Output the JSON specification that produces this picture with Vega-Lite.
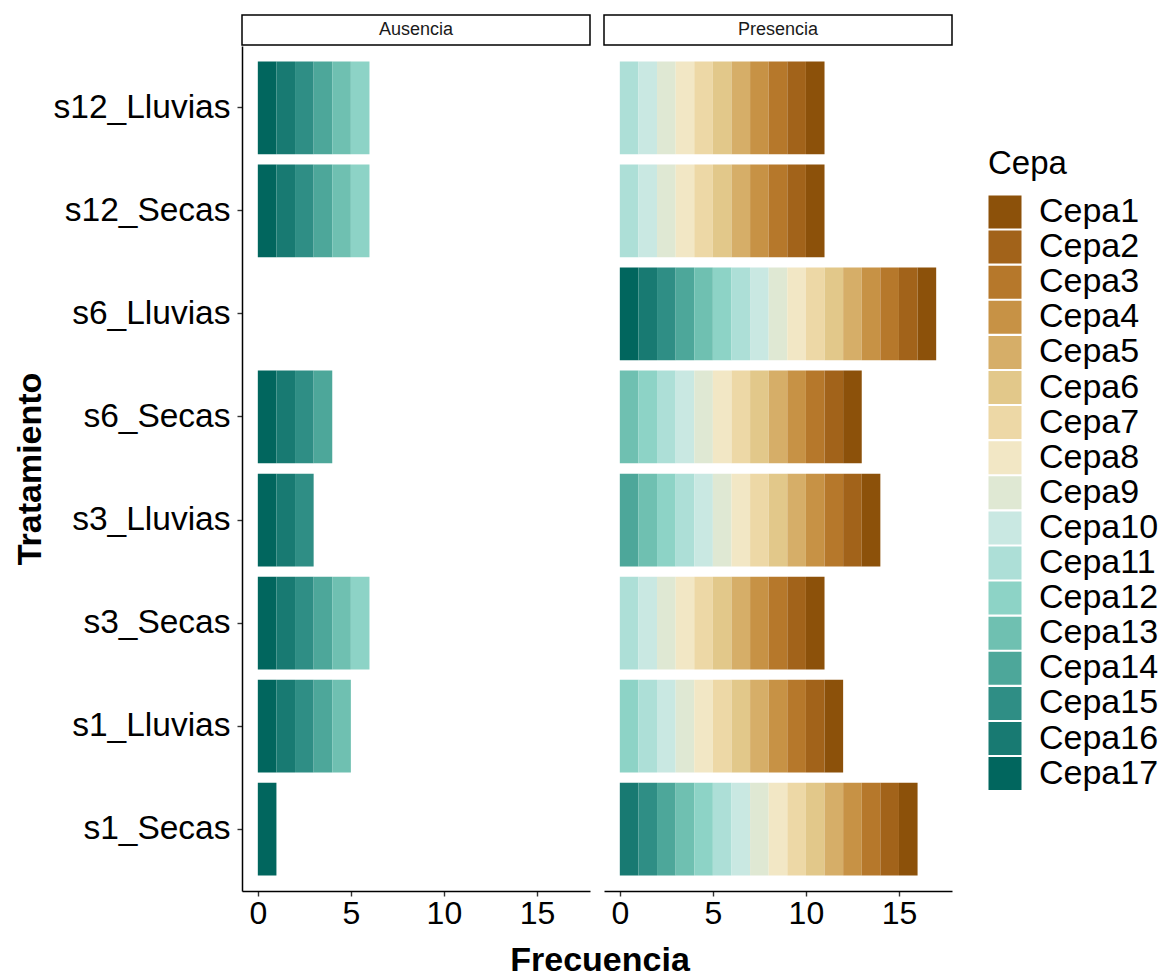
{
  "$schema": "https://vega.github.io/schema/vega-lite/v6.json",
  "padding": {"left": 13, "top": 14, "right": 1, "bottom": 1},
  "background": "white",
  "config": {
    "font": "Liberation Sans",
    "view": {"stroke": null},
    "axis": {
      "grid": false,
      "domainColor": "black",
      "domainWidth": 1.5,
      "tickColor": "#333333",
      "tickWidth": 1.4,
      "tickSize": 5,
      "labelColor": "black",
      "labelFont": "Liberation Sans",
      "labelFontSize": 32,
      "titleFont": "Liberation Sans",
      "titleFontSize": 34,
      "titleFontWeight": "bold",
      "titleColor": "black"
    },
    "legend": {
      "labelFont": "Liberation Sans",
      "labelFontSize": 34,
      "labelColor": "black",
      "titleFont": "Liberation Sans",
      "titleFontSize": 33,
      "titleFontWeight": "normal",
      "titleColor": "black",
      "symbolType": "square",
      "symbolSize": 1089,
      "symbolStrokeWidth": 0,
      "symbolOpacity": 1,
      "rowPadding": 1.1,
      "labelOffset": 17,
      "titlePadding": 14,
      "padding": 0
    }
  },
  "title": {
    "text": "Frecuencia",
    "orient": "bottom",
    "anchor": "middle",
    "font": "Liberation Sans",
    "fontSize": 34,
    "fontWeight": "bold",
    "color": "black",
    "offset": 15,
    "dx": 14
  },
  "datasets": {
    "d": [
      {"Tratamiento": "s12_Lluvias", "Condicion": "Ausencia", "Cepa": "Cepa17", "k": 17},
      {"Tratamiento": "s12_Lluvias", "Condicion": "Ausencia", "Cepa": "Cepa16", "k": 16},
      {"Tratamiento": "s12_Lluvias", "Condicion": "Ausencia", "Cepa": "Cepa15", "k": 15},
      {"Tratamiento": "s12_Lluvias", "Condicion": "Ausencia", "Cepa": "Cepa14", "k": 14},
      {"Tratamiento": "s12_Lluvias", "Condicion": "Ausencia", "Cepa": "Cepa13", "k": 13},
      {"Tratamiento": "s12_Lluvias", "Condicion": "Ausencia", "Cepa": "Cepa12", "k": 12},
      {"Tratamiento": "s12_Lluvias", "Condicion": "Presencia", "Cepa": "Cepa11", "k": 11},
      {"Tratamiento": "s12_Lluvias", "Condicion": "Presencia", "Cepa": "Cepa10", "k": 10},
      {"Tratamiento": "s12_Lluvias", "Condicion": "Presencia", "Cepa": "Cepa9", "k": 9},
      {"Tratamiento": "s12_Lluvias", "Condicion": "Presencia", "Cepa": "Cepa8", "k": 8},
      {"Tratamiento": "s12_Lluvias", "Condicion": "Presencia", "Cepa": "Cepa7", "k": 7},
      {"Tratamiento": "s12_Lluvias", "Condicion": "Presencia", "Cepa": "Cepa6", "k": 6},
      {"Tratamiento": "s12_Lluvias", "Condicion": "Presencia", "Cepa": "Cepa5", "k": 5},
      {"Tratamiento": "s12_Lluvias", "Condicion": "Presencia", "Cepa": "Cepa4", "k": 4},
      {"Tratamiento": "s12_Lluvias", "Condicion": "Presencia", "Cepa": "Cepa3", "k": 3},
      {"Tratamiento": "s12_Lluvias", "Condicion": "Presencia", "Cepa": "Cepa2", "k": 2},
      {"Tratamiento": "s12_Lluvias", "Condicion": "Presencia", "Cepa": "Cepa1", "k": 1},

      {"Tratamiento": "s12_Secas", "Condicion": "Ausencia", "Cepa": "Cepa17", "k": 17},
      {"Tratamiento": "s12_Secas", "Condicion": "Ausencia", "Cepa": "Cepa16", "k": 16},
      {"Tratamiento": "s12_Secas", "Condicion": "Ausencia", "Cepa": "Cepa15", "k": 15},
      {"Tratamiento": "s12_Secas", "Condicion": "Ausencia", "Cepa": "Cepa14", "k": 14},
      {"Tratamiento": "s12_Secas", "Condicion": "Ausencia", "Cepa": "Cepa13", "k": 13},
      {"Tratamiento": "s12_Secas", "Condicion": "Ausencia", "Cepa": "Cepa12", "k": 12},
      {"Tratamiento": "s12_Secas", "Condicion": "Presencia", "Cepa": "Cepa11", "k": 11},
      {"Tratamiento": "s12_Secas", "Condicion": "Presencia", "Cepa": "Cepa10", "k": 10},
      {"Tratamiento": "s12_Secas", "Condicion": "Presencia", "Cepa": "Cepa9", "k": 9},
      {"Tratamiento": "s12_Secas", "Condicion": "Presencia", "Cepa": "Cepa8", "k": 8},
      {"Tratamiento": "s12_Secas", "Condicion": "Presencia", "Cepa": "Cepa7", "k": 7},
      {"Tratamiento": "s12_Secas", "Condicion": "Presencia", "Cepa": "Cepa6", "k": 6},
      {"Tratamiento": "s12_Secas", "Condicion": "Presencia", "Cepa": "Cepa5", "k": 5},
      {"Tratamiento": "s12_Secas", "Condicion": "Presencia", "Cepa": "Cepa4", "k": 4},
      {"Tratamiento": "s12_Secas", "Condicion": "Presencia", "Cepa": "Cepa3", "k": 3},
      {"Tratamiento": "s12_Secas", "Condicion": "Presencia", "Cepa": "Cepa2", "k": 2},
      {"Tratamiento": "s12_Secas", "Condicion": "Presencia", "Cepa": "Cepa1", "k": 1},

      {"Tratamiento": "s6_Lluvias", "Condicion": "Presencia", "Cepa": "Cepa17", "k": 17},
      {"Tratamiento": "s6_Lluvias", "Condicion": "Presencia", "Cepa": "Cepa16", "k": 16},
      {"Tratamiento": "s6_Lluvias", "Condicion": "Presencia", "Cepa": "Cepa15", "k": 15},
      {"Tratamiento": "s6_Lluvias", "Condicion": "Presencia", "Cepa": "Cepa14", "k": 14},
      {"Tratamiento": "s6_Lluvias", "Condicion": "Presencia", "Cepa": "Cepa13", "k": 13},
      {"Tratamiento": "s6_Lluvias", "Condicion": "Presencia", "Cepa": "Cepa12", "k": 12},
      {"Tratamiento": "s6_Lluvias", "Condicion": "Presencia", "Cepa": "Cepa11", "k": 11},
      {"Tratamiento": "s6_Lluvias", "Condicion": "Presencia", "Cepa": "Cepa10", "k": 10},
      {"Tratamiento": "s6_Lluvias", "Condicion": "Presencia", "Cepa": "Cepa9", "k": 9},
      {"Tratamiento": "s6_Lluvias", "Condicion": "Presencia", "Cepa": "Cepa8", "k": 8},
      {"Tratamiento": "s6_Lluvias", "Condicion": "Presencia", "Cepa": "Cepa7", "k": 7},
      {"Tratamiento": "s6_Lluvias", "Condicion": "Presencia", "Cepa": "Cepa6", "k": 6},
      {"Tratamiento": "s6_Lluvias", "Condicion": "Presencia", "Cepa": "Cepa5", "k": 5},
      {"Tratamiento": "s6_Lluvias", "Condicion": "Presencia", "Cepa": "Cepa4", "k": 4},
      {"Tratamiento": "s6_Lluvias", "Condicion": "Presencia", "Cepa": "Cepa3", "k": 3},
      {"Tratamiento": "s6_Lluvias", "Condicion": "Presencia", "Cepa": "Cepa2", "k": 2},
      {"Tratamiento": "s6_Lluvias", "Condicion": "Presencia", "Cepa": "Cepa1", "k": 1},

      {"Tratamiento": "s6_Secas", "Condicion": "Ausencia", "Cepa": "Cepa17", "k": 17},
      {"Tratamiento": "s6_Secas", "Condicion": "Ausencia", "Cepa": "Cepa16", "k": 16},
      {"Tratamiento": "s6_Secas", "Condicion": "Ausencia", "Cepa": "Cepa15", "k": 15},
      {"Tratamiento": "s6_Secas", "Condicion": "Ausencia", "Cepa": "Cepa14", "k": 14},
      {"Tratamiento": "s6_Secas", "Condicion": "Presencia", "Cepa": "Cepa13", "k": 13},
      {"Tratamiento": "s6_Secas", "Condicion": "Presencia", "Cepa": "Cepa12", "k": 12},
      {"Tratamiento": "s6_Secas", "Condicion": "Presencia", "Cepa": "Cepa11", "k": 11},
      {"Tratamiento": "s6_Secas", "Condicion": "Presencia", "Cepa": "Cepa10", "k": 10},
      {"Tratamiento": "s6_Secas", "Condicion": "Presencia", "Cepa": "Cepa9", "k": 9},
      {"Tratamiento": "s6_Secas", "Condicion": "Presencia", "Cepa": "Cepa8", "k": 8},
      {"Tratamiento": "s6_Secas", "Condicion": "Presencia", "Cepa": "Cepa7", "k": 7},
      {"Tratamiento": "s6_Secas", "Condicion": "Presencia", "Cepa": "Cepa6", "k": 6},
      {"Tratamiento": "s6_Secas", "Condicion": "Presencia", "Cepa": "Cepa5", "k": 5},
      {"Tratamiento": "s6_Secas", "Condicion": "Presencia", "Cepa": "Cepa4", "k": 4},
      {"Tratamiento": "s6_Secas", "Condicion": "Presencia", "Cepa": "Cepa3", "k": 3},
      {"Tratamiento": "s6_Secas", "Condicion": "Presencia", "Cepa": "Cepa2", "k": 2},
      {"Tratamiento": "s6_Secas", "Condicion": "Presencia", "Cepa": "Cepa1", "k": 1},

      {"Tratamiento": "s3_Lluvias", "Condicion": "Ausencia", "Cepa": "Cepa17", "k": 17},
      {"Tratamiento": "s3_Lluvias", "Condicion": "Ausencia", "Cepa": "Cepa16", "k": 16},
      {"Tratamiento": "s3_Lluvias", "Condicion": "Ausencia", "Cepa": "Cepa15", "k": 15},
      {"Tratamiento": "s3_Lluvias", "Condicion": "Presencia", "Cepa": "Cepa14", "k": 14},
      {"Tratamiento": "s3_Lluvias", "Condicion": "Presencia", "Cepa": "Cepa13", "k": 13},
      {"Tratamiento": "s3_Lluvias", "Condicion": "Presencia", "Cepa": "Cepa12", "k": 12},
      {"Tratamiento": "s3_Lluvias", "Condicion": "Presencia", "Cepa": "Cepa11", "k": 11},
      {"Tratamiento": "s3_Lluvias", "Condicion": "Presencia", "Cepa": "Cepa10", "k": 10},
      {"Tratamiento": "s3_Lluvias", "Condicion": "Presencia", "Cepa": "Cepa9", "k": 9},
      {"Tratamiento": "s3_Lluvias", "Condicion": "Presencia", "Cepa": "Cepa8", "k": 8},
      {"Tratamiento": "s3_Lluvias", "Condicion": "Presencia", "Cepa": "Cepa7", "k": 7},
      {"Tratamiento": "s3_Lluvias", "Condicion": "Presencia", "Cepa": "Cepa6", "k": 6},
      {"Tratamiento": "s3_Lluvias", "Condicion": "Presencia", "Cepa": "Cepa5", "k": 5},
      {"Tratamiento": "s3_Lluvias", "Condicion": "Presencia", "Cepa": "Cepa4", "k": 4},
      {"Tratamiento": "s3_Lluvias", "Condicion": "Presencia", "Cepa": "Cepa3", "k": 3},
      {"Tratamiento": "s3_Lluvias", "Condicion": "Presencia", "Cepa": "Cepa2", "k": 2},
      {"Tratamiento": "s3_Lluvias", "Condicion": "Presencia", "Cepa": "Cepa1", "k": 1},

      {"Tratamiento": "s3_Secas", "Condicion": "Ausencia", "Cepa": "Cepa17", "k": 17},
      {"Tratamiento": "s3_Secas", "Condicion": "Ausencia", "Cepa": "Cepa16", "k": 16},
      {"Tratamiento": "s3_Secas", "Condicion": "Ausencia", "Cepa": "Cepa15", "k": 15},
      {"Tratamiento": "s3_Secas", "Condicion": "Ausencia", "Cepa": "Cepa14", "k": 14},
      {"Tratamiento": "s3_Secas", "Condicion": "Ausencia", "Cepa": "Cepa13", "k": 13},
      {"Tratamiento": "s3_Secas", "Condicion": "Ausencia", "Cepa": "Cepa12", "k": 12},
      {"Tratamiento": "s3_Secas", "Condicion": "Presencia", "Cepa": "Cepa11", "k": 11},
      {"Tratamiento": "s3_Secas", "Condicion": "Presencia", "Cepa": "Cepa10", "k": 10},
      {"Tratamiento": "s3_Secas", "Condicion": "Presencia", "Cepa": "Cepa9", "k": 9},
      {"Tratamiento": "s3_Secas", "Condicion": "Presencia", "Cepa": "Cepa8", "k": 8},
      {"Tratamiento": "s3_Secas", "Condicion": "Presencia", "Cepa": "Cepa7", "k": 7},
      {"Tratamiento": "s3_Secas", "Condicion": "Presencia", "Cepa": "Cepa6", "k": 6},
      {"Tratamiento": "s3_Secas", "Condicion": "Presencia", "Cepa": "Cepa5", "k": 5},
      {"Tratamiento": "s3_Secas", "Condicion": "Presencia", "Cepa": "Cepa4", "k": 4},
      {"Tratamiento": "s3_Secas", "Condicion": "Presencia", "Cepa": "Cepa3", "k": 3},
      {"Tratamiento": "s3_Secas", "Condicion": "Presencia", "Cepa": "Cepa2", "k": 2},
      {"Tratamiento": "s3_Secas", "Condicion": "Presencia", "Cepa": "Cepa1", "k": 1},

      {"Tratamiento": "s1_Lluvias", "Condicion": "Ausencia", "Cepa": "Cepa17", "k": 17},
      {"Tratamiento": "s1_Lluvias", "Condicion": "Ausencia", "Cepa": "Cepa16", "k": 16},
      {"Tratamiento": "s1_Lluvias", "Condicion": "Ausencia", "Cepa": "Cepa15", "k": 15},
      {"Tratamiento": "s1_Lluvias", "Condicion": "Ausencia", "Cepa": "Cepa14", "k": 14},
      {"Tratamiento": "s1_Lluvias", "Condicion": "Ausencia", "Cepa": "Cepa13", "k": 13},
      {"Tratamiento": "s1_Lluvias", "Condicion": "Presencia", "Cepa": "Cepa12", "k": 12},
      {"Tratamiento": "s1_Lluvias", "Condicion": "Presencia", "Cepa": "Cepa11", "k": 11},
      {"Tratamiento": "s1_Lluvias", "Condicion": "Presencia", "Cepa": "Cepa10", "k": 10},
      {"Tratamiento": "s1_Lluvias", "Condicion": "Presencia", "Cepa": "Cepa9", "k": 9},
      {"Tratamiento": "s1_Lluvias", "Condicion": "Presencia", "Cepa": "Cepa8", "k": 8},
      {"Tratamiento": "s1_Lluvias", "Condicion": "Presencia", "Cepa": "Cepa7", "k": 7},
      {"Tratamiento": "s1_Lluvias", "Condicion": "Presencia", "Cepa": "Cepa6", "k": 6},
      {"Tratamiento": "s1_Lluvias", "Condicion": "Presencia", "Cepa": "Cepa5", "k": 5},
      {"Tratamiento": "s1_Lluvias", "Condicion": "Presencia", "Cepa": "Cepa4", "k": 4},
      {"Tratamiento": "s1_Lluvias", "Condicion": "Presencia", "Cepa": "Cepa3", "k": 3},
      {"Tratamiento": "s1_Lluvias", "Condicion": "Presencia", "Cepa": "Cepa2", "k": 2},
      {"Tratamiento": "s1_Lluvias", "Condicion": "Presencia", "Cepa": "Cepa1", "k": 1},

      {"Tratamiento": "s1_Secas", "Condicion": "Ausencia", "Cepa": "Cepa17", "k": 17},
      {"Tratamiento": "s1_Secas", "Condicion": "Presencia", "Cepa": "Cepa16", "k": 16},
      {"Tratamiento": "s1_Secas", "Condicion": "Presencia", "Cepa": "Cepa15", "k": 15},
      {"Tratamiento": "s1_Secas", "Condicion": "Presencia", "Cepa": "Cepa14", "k": 14},
      {"Tratamiento": "s1_Secas", "Condicion": "Presencia", "Cepa": "Cepa13", "k": 13},
      {"Tratamiento": "s1_Secas", "Condicion": "Presencia", "Cepa": "Cepa12", "k": 12},
      {"Tratamiento": "s1_Secas", "Condicion": "Presencia", "Cepa": "Cepa11", "k": 11},
      {"Tratamiento": "s1_Secas", "Condicion": "Presencia", "Cepa": "Cepa10", "k": 10},
      {"Tratamiento": "s1_Secas", "Condicion": "Presencia", "Cepa": "Cepa9", "k": 9},
      {"Tratamiento": "s1_Secas", "Condicion": "Presencia", "Cepa": "Cepa8", "k": 8},
      {"Tratamiento": "s1_Secas", "Condicion": "Presencia", "Cepa": "Cepa7", "k": 7},
      {"Tratamiento": "s1_Secas", "Condicion": "Presencia", "Cepa": "Cepa6", "k": 6},
      {"Tratamiento": "s1_Secas", "Condicion": "Presencia", "Cepa": "Cepa5", "k": 5},
      {"Tratamiento": "s1_Secas", "Condicion": "Presencia", "Cepa": "Cepa4", "k": 4},
      {"Tratamiento": "s1_Secas", "Condicion": "Presencia", "Cepa": "Cepa3", "k": 3},
      {"Tratamiento": "s1_Secas", "Condicion": "Presencia", "Cepa": "Cepa2", "k": 2},
      {"Tratamiento": "s1_Secas", "Condicion": "Presencia", "Cepa": "Cepa1", "k": 1}
    ]
  },
  "columns": 2,
  "spacing": {"row": 1, "column": 14},
  "bounds": "flush",
  "resolve": {"scale": {"color": "shared"}, "legend": {"color": "shared"}},
  "concat": [
    {
      "data": {"values": [{"Condicion": "Ausencia"}]},
      "width": 348,
      "height": 30,
      "view": {"stroke": "black", "strokeWidth": 1.5, "fill": "white"},
      "mark": {"type": "text", "fontSize": 18, "font": "Liberation Sans", "color": "#1a1a1a"},
      "encoding": {
        "text": {"field": "Condicion"},
        "x": {"field": "Condicion", "type": "nominal", "axis": null},
        "y": {"field": "Condicion", "type": "nominal", "axis": null}
      }
    },
    {
      "data": {"values": [{"Condicion": "Presencia"}]},
      "width": 348,
      "height": 30,
      "view": {"stroke": "black", "strokeWidth": 1.5, "fill": "white"},
      "mark": {"type": "text", "fontSize": 18, "font": "Liberation Sans", "color": "#1a1a1a"},
      "encoding": {
        "text": {"field": "Condicion"},
        "x": {"field": "Condicion", "type": "nominal", "axis": null},
        "y": {"field": "Condicion", "type": "nominal", "axis": null}
      }
    },
    {
      "data": {"name": "d"},
      "transform": [{"filter": "datum.Condicion === 'Ausencia'"}],
      "width": 348,
      "height": 845,
      "mark": {"type": "bar"},
      "encoding": {
        "y": {
          "field": "Tratamiento",
          "type": "nominal",
          "scale": {
            "domain": ["s12_Lluvias", "s12_Secas", "s6_Lluvias", "s6_Secas", "s3_Lluvias", "s3_Secas", "s1_Lluvias", "s1_Secas"],
            "paddingInner": 0.1,
            "paddingOuter": 0.15
          },
          "axis": {"title": "Tratamiento", "labelFontSize": 33.5, "labelPadding": 7, "titlePadding": 6, "tickSize": 5}
        },
        "x": {
          "aggregate": "count",
          "type": "quantitative",
          "stack": "zero",
          "scale": {"domain": [-0.85, 17.85], "nice": false, "zero": false},
          "axis": {"title": null, "values": [0, 5, 10, 15], "labelPadding": 2, "labelFlush": false}
        },
        "color": {
          "field": "Cepa",
          "type": "nominal",
          "scale": {
            "domain": ["Cepa1", "Cepa2", "Cepa3", "Cepa4", "Cepa5", "Cepa6", "Cepa7", "Cepa8", "Cepa9", "Cepa10", "Cepa11", "Cepa12", "Cepa13", "Cepa14", "Cepa15", "Cepa16", "Cepa17"],
            "range": ["#8C510A", "#A2631A", "#B6782B", "#C79245", "#D6AE68", "#E2C88A", "#EDD8A6", "#F2E7C5", "#DFE8D3", "#C9E8E2", "#ADDFD7", "#8DD3C6", "#6FC0B1", "#4DA79A", "#2F8E85", "#187A72", "#01665E"]
          },
          "legend": {"title": "Cepa", "orient": "none", "legendX": 746, "legendY": 133}
        },
        "order": {"field": "k", "type": "quantitative", "sort": "descending"}
      }
    },
    {
      "data": {"name": "d"},
      "transform": [{"filter": "datum.Condicion === 'Presencia'"}],
      "width": 348,
      "height": 845,
      "mark": {"type": "bar"},
      "encoding": {
        "y": {
          "field": "Tratamiento",
          "type": "nominal",
          "scale": {
            "domain": ["s12_Lluvias", "s12_Secas", "s6_Lluvias", "s6_Secas", "s3_Lluvias", "s3_Secas", "s1_Lluvias", "s1_Secas"],
            "paddingInner": 0.1,
            "paddingOuter": 0.15
          },
          "axis": null
        },
        "x": {
          "aggregate": "count",
          "type": "quantitative",
          "stack": "zero",
          "scale": {"domain": [-0.85, 17.85], "nice": false, "zero": false},
          "axis": {"title": null, "values": [0, 5, 10, 15], "labelPadding": 2, "labelFlush": false}
        },
        "color": {
          "field": "Cepa",
          "type": "nominal",
          "scale": {
            "domain": ["Cepa1", "Cepa2", "Cepa3", "Cepa4", "Cepa5", "Cepa6", "Cepa7", "Cepa8", "Cepa9", "Cepa10", "Cepa11", "Cepa12", "Cepa13", "Cepa14", "Cepa15", "Cepa16", "Cepa17"],
            "range": ["#8C510A", "#A2631A", "#B6782B", "#C79245", "#D6AE68", "#E2C88A", "#EDD8A6", "#F2E7C5", "#DFE8D3", "#C9E8E2", "#ADDFD7", "#8DD3C6", "#6FC0B1", "#4DA79A", "#2F8E85", "#187A72", "#01665E"]
          },
          "legend": {"title": "Cepa", "orient": "none", "legendX": 746, "legendY": 133}
        },
        "order": {"field": "k", "type": "quantitative", "sort": "descending"}
      }
    }
  ]
}
